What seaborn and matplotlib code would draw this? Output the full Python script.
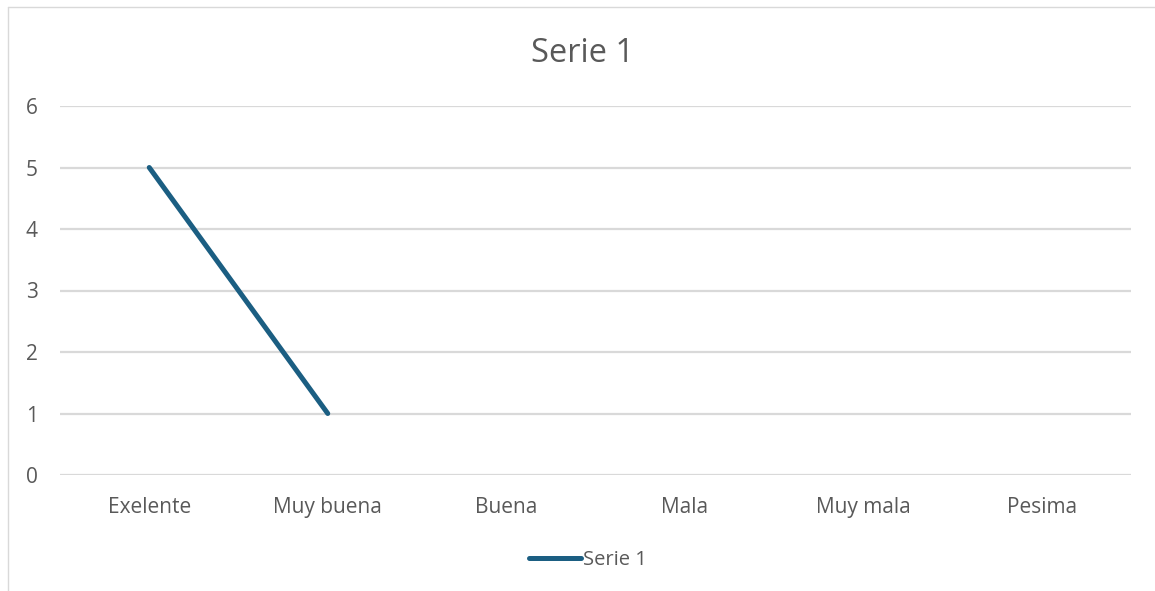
import matplotlib
matplotlib.use("Agg")
import matplotlib.pyplot as plt
import numpy as np
import pandas as pd
import seaborn as sns

categorias = ["Exelente", "Muy buena", "Buena", "Mala", "Muy mala", "Pesima"]
serie_1 = [5, 1, np.nan, np.nan, np.nan, np.nan]
y_ticks = [0, 1, 2, 3, 4, 5, 6]

sns.set_style("white")
plt.rcParams["font.family"] = ["Open Sans", "DejaVu Sans"]

df = pd.DataFrame({"pos": range(len(categorias)), "valor": serie_1})

fig = plt.figure(figsize=(11.55, 5.91), dpi=100)
ax = fig.add_axes([60 / 1155, 1 - 475 / 591, 1071 / 1155, 369 / 591])

texto = "#595959"
linea = "#1b5e82"

sns.lineplot(data=df, x="pos", y="valor", ax=ax, color=linea, linewidth=3.6,
             solid_capstyle="round", label="Serie 1")

ax.set_xlim(-0.5, len(categorias) - 0.5)
ax.set_ylim(0, 6)
ax.set_yticks(y_ticks)
ax.set_xticks(range(len(categorias)))
ax.set_xticklabels(categorias)
ax.yaxis.grid(True, color="#d9d9d9", linewidth=1.6)
ax.set_axisbelow(True)
for s in ax.spines.values():
    s.set_visible(False)
ax.tick_params(axis="both", length=0, labelsize=15, labelcolor=texto)
ax.tick_params(axis="y", pad=16)
ax.tick_params(axis="x", pad=16)
ax.set_xlabel("")
ax.set_ylabel("")

fig.text(583 / 1155, 1 - 54 / 591, "Serie 1", ha="center", va="center",
         fontsize=23.5, color=texto)

ax.legend(loc="center", bbox_to_anchor=(588 / 1155, 1 - 560 / 591),
          bbox_transform=fig.transFigure, frameon=False, fontsize=14.5,
          labelcolor=texto, handlelength=2.6, handletextpad=0.1)

# borde del área del gráfico
fig.add_artist(plt.Line2D([8 / 1155, 8 / 1155], [0, 1 - 7 / 591],
                          transform=fig.transFigure, color="#d9d9d9", linewidth=1))
fig.add_artist(plt.Line2D([8 / 1155, 1], [1 - 7 / 591, 1 - 7 / 591],
                          transform=fig.transFigure, color="#d9d9d9", linewidth=1))

fig.savefig("out.png", dpi=100)
